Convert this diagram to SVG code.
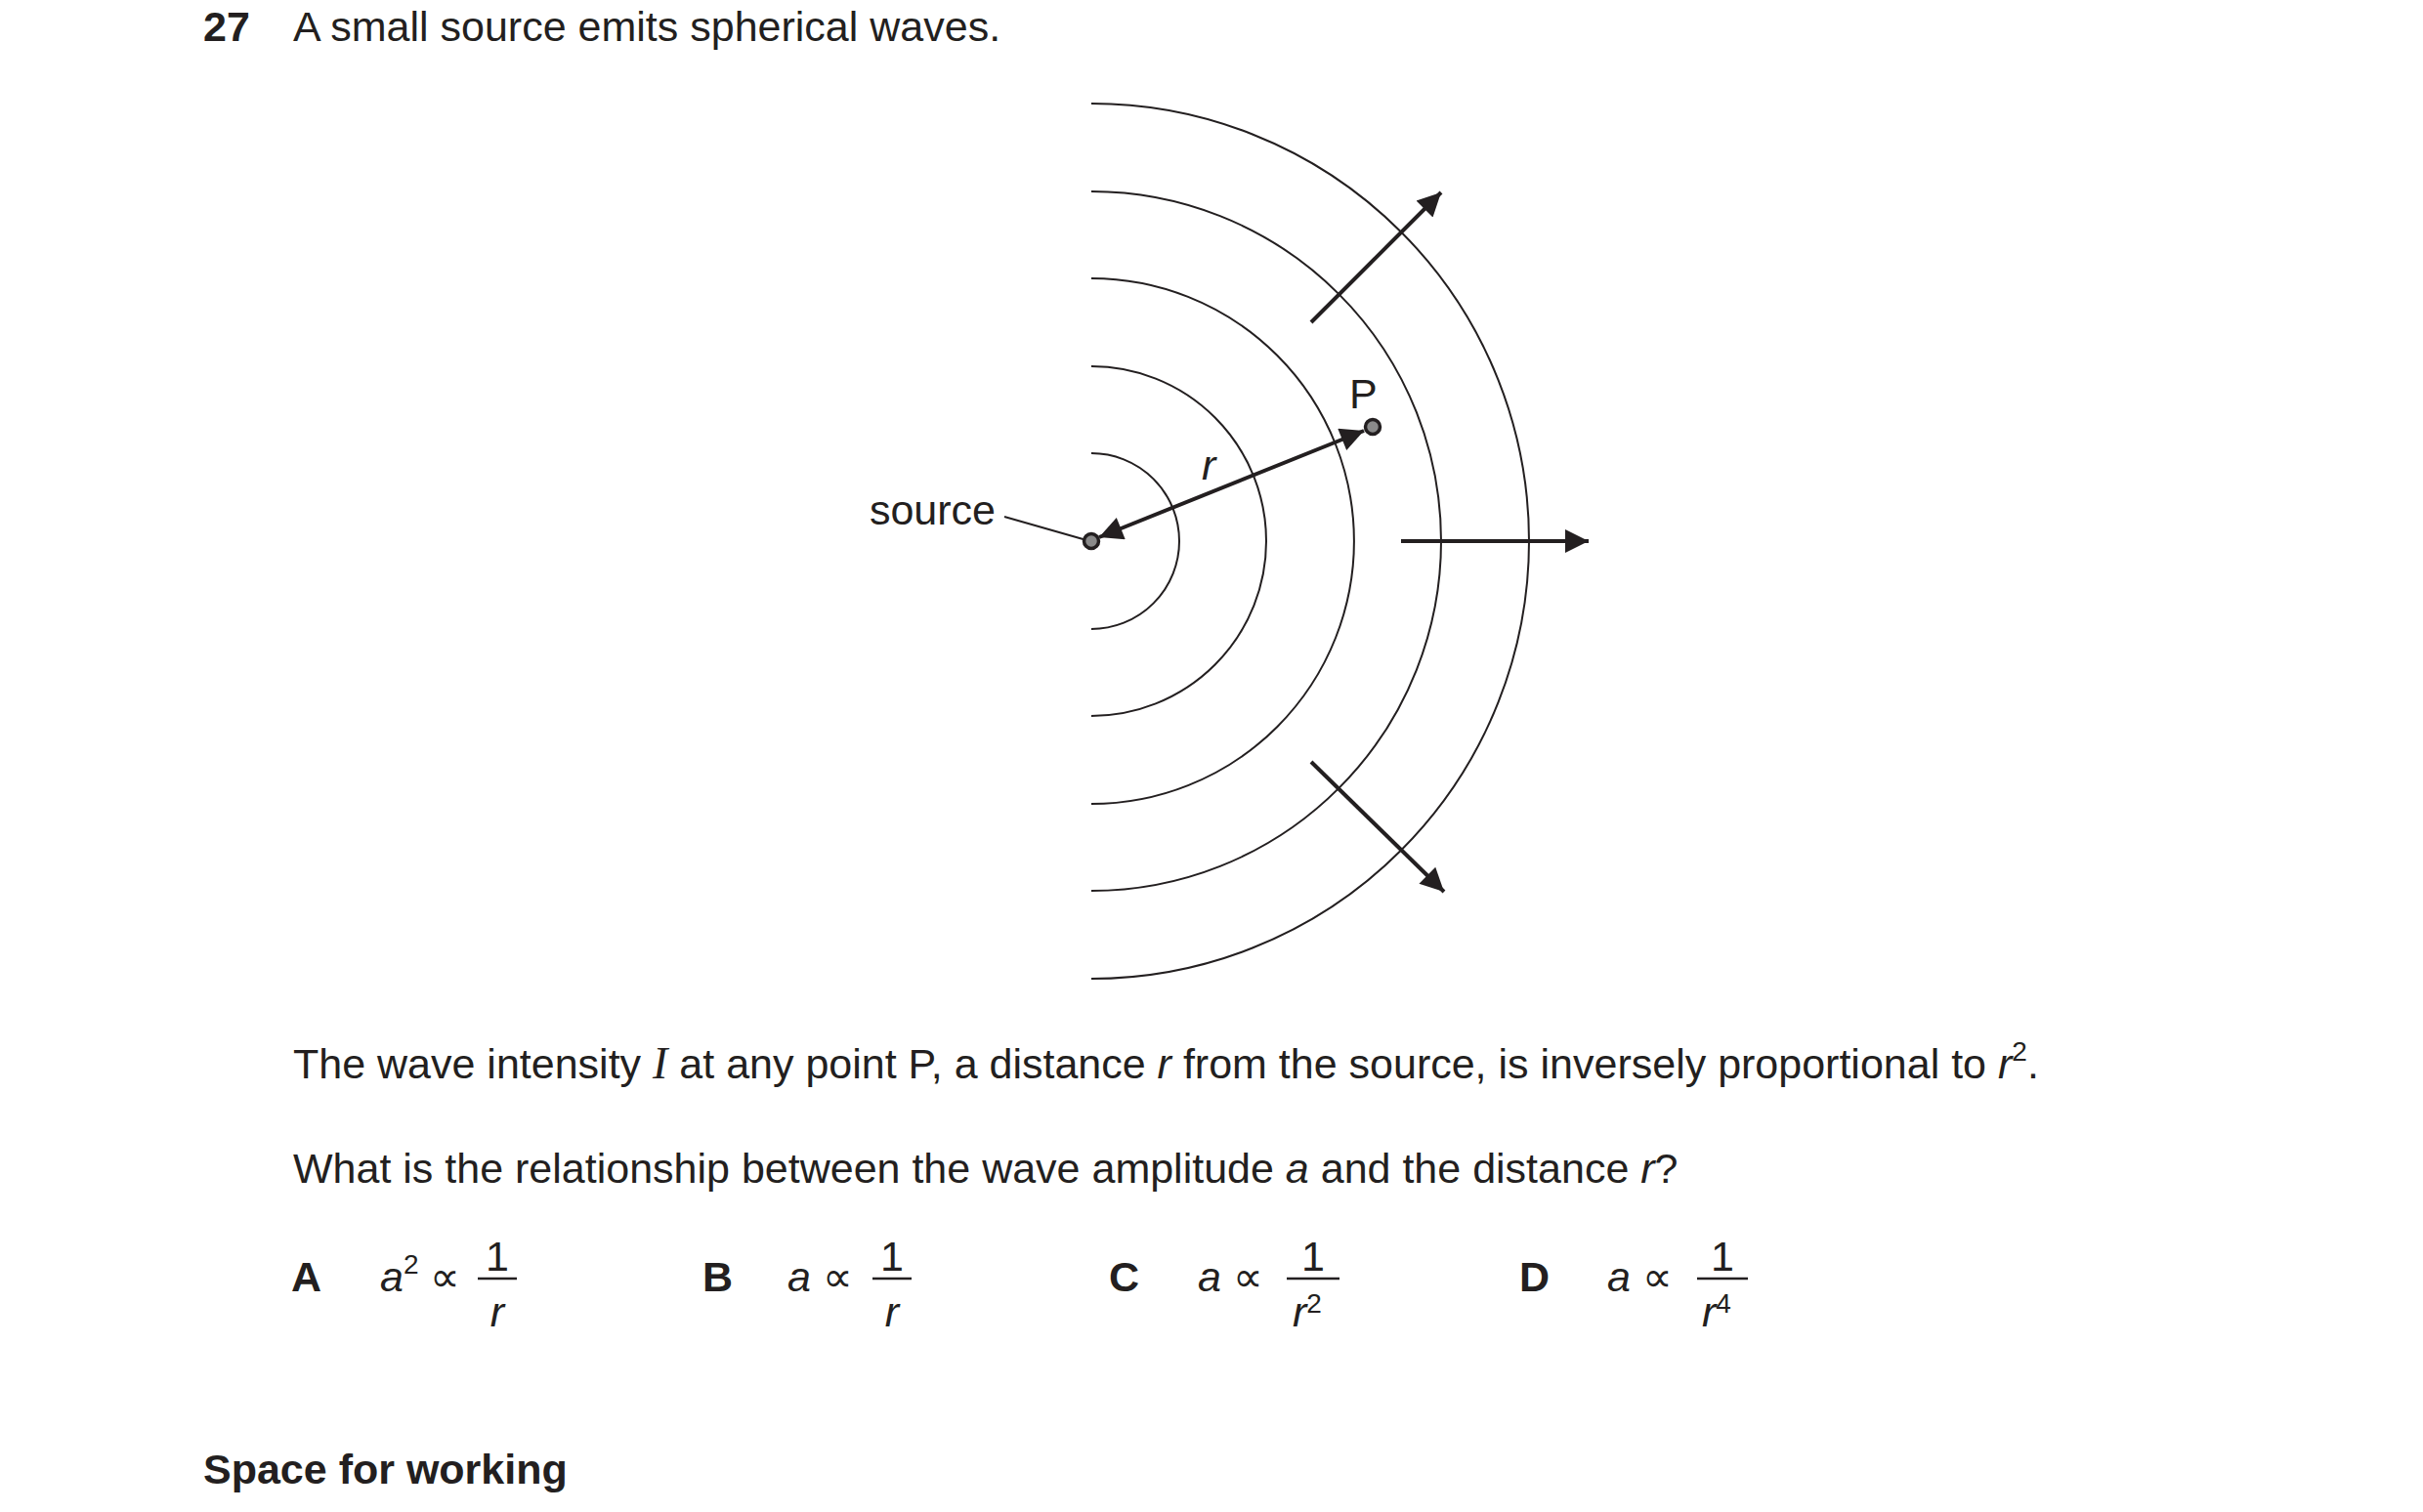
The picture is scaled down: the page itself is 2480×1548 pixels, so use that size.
<svg xmlns="http://www.w3.org/2000/svg" width="2480" height="1548" viewBox="0 0 2480 1548">
<defs>
<marker id="ah" viewBox="0 0 10 10" refX="10" refY="5" markerWidth="9" markerHeight="6" markerUnits="strokeWidth" orient="auto-start-reverse"><path d="M0,0 L10,5 L0,10 z" fill="#231f20"/></marker>
<style>
text{font-family:"Liberation Sans",Arial,sans-serif;font-size:43px;fill:#231f20}
.b{font-weight:bold}.i{font-style:italic}
.arc{fill:none;stroke:#231f20;stroke-width:2}
.ar{stroke:#231f20;stroke-width:4;fill:none}
.dot{fill:#8a8a8a;stroke:#231f20;stroke-width:3.5}
.sm{font-size:28px}
</style>
</defs>
<rect width="2480" height="1548" fill="#fff"/>
<text x="208" y="42" class="b">27</text>
<text x="300" y="42">A small source emits spherical waves.</text>
<g id="waves">
<path class="arc" d="M1117,464 A90,90 0 0 1 1117,644"/>
<path class="arc" d="M1117,375 A179,179 0 0 1 1117,733"/>
<path class="arc" d="M1117,285 A269,269 0 0 1 1117,823"/>
<path class="arc" d="M1117,196 A358,358 0 0 1 1117,912"/>
<path class="arc" d="M1117,106 A448,448 0 0 1 1117,1002"/>
</g>
<g id="connectors">
<line class="ar" x1="1342" y1="330" x2="1475" y2="197" marker-end="url(#ah)"/>
<line class="ar" x1="1434" y1="554" x2="1626" y2="554" marker-end="url(#ah)"/>
<line class="ar" x1="1342" y1="780" x2="1478" y2="913" marker-end="url(#ah)"/>
<line class="ar" x1="1125" y1="550" x2="1396" y2="441" marker-start="url(#ah)" marker-end="url(#ah)"/>
<line x1="1028" y1="529" x2="1112" y2="553" stroke="#231f20" stroke-width="2"/>
</g>
<g id="source"><circle class="dot" cx="1117" cy="554" r="7.5"/><text x="1019" y="537" text-anchor="end">source</text></g>
<g id="P"><circle class="dot" cx="1405" cy="437" r="7.5"/><text x="1381" y="418">P</text></g>
<text x="1230" y="491" class="i">r</text>
<text x="300" y="1104">The wave intensity <tspan font-family="Liberation Serif" class="i" font-size="46">I</tspan> at any point P, a distance <tspan class="i">r</tspan> from the source, is inversely proportional to <tspan class="i">r</tspan><tspan class="sm" dy="-18">2</tspan><tspan dy="18">.</tspan></text>
<text x="300" y="1211">What is the relationship between the wave amplitude <tspan class="i">a</tspan> and the distance <tspan class="i">r</tspan>?</text>
<g id="optA"><text x="298" y="1322" class="b">A</text><text x="389" y="1322"><tspan class="i">a</tspan><tspan class="sm" dy="-18">2</tspan><tspan dy="18"> ∝</tspan></text><text x="509" y="1301" text-anchor="middle">1</text><line x1="489" y1="1309" x2="529" y2="1309" stroke="#231f20" stroke-width="2.5"/><text x="509" y="1358" text-anchor="middle" class="i">r</text></g>
<g id="optB"><text x="719" y="1322" class="b">B</text><text x="806" y="1322"><tspan class="i">a</tspan> ∝</text><text x="913" y="1301" text-anchor="middle">1</text><line x1="893" y1="1309" x2="933" y2="1309" stroke="#231f20" stroke-width="2.5"/><text x="913" y="1358" text-anchor="middle" class="i">r</text></g>
<g id="optC"><text x="1135" y="1322" class="b">C</text><text x="1226" y="1322"><tspan class="i">a</tspan> ∝</text><text x="1344" y="1301" text-anchor="middle">1</text><line x1="1317" y1="1309" x2="1371" y2="1309" stroke="#231f20" stroke-width="2.5"/><text x="1323" y="1358" class="i">r<tspan class="sm" font-style="normal" dy="-14">2</tspan></text></g>
<g id="optD"><text x="1555" y="1322" class="b">D</text><text x="1645" y="1322"><tspan class="i">a</tspan> ∝</text><text x="1763" y="1301" text-anchor="middle">1</text><line x1="1737" y1="1309" x2="1789" y2="1309" stroke="#231f20" stroke-width="2.5"/><text x="1742" y="1358" class="i">r<tspan class="sm" font-style="normal" dy="-14">4</tspan></text></g>
<text x="208" y="1519" class="b">Space for working</text>
</svg>
